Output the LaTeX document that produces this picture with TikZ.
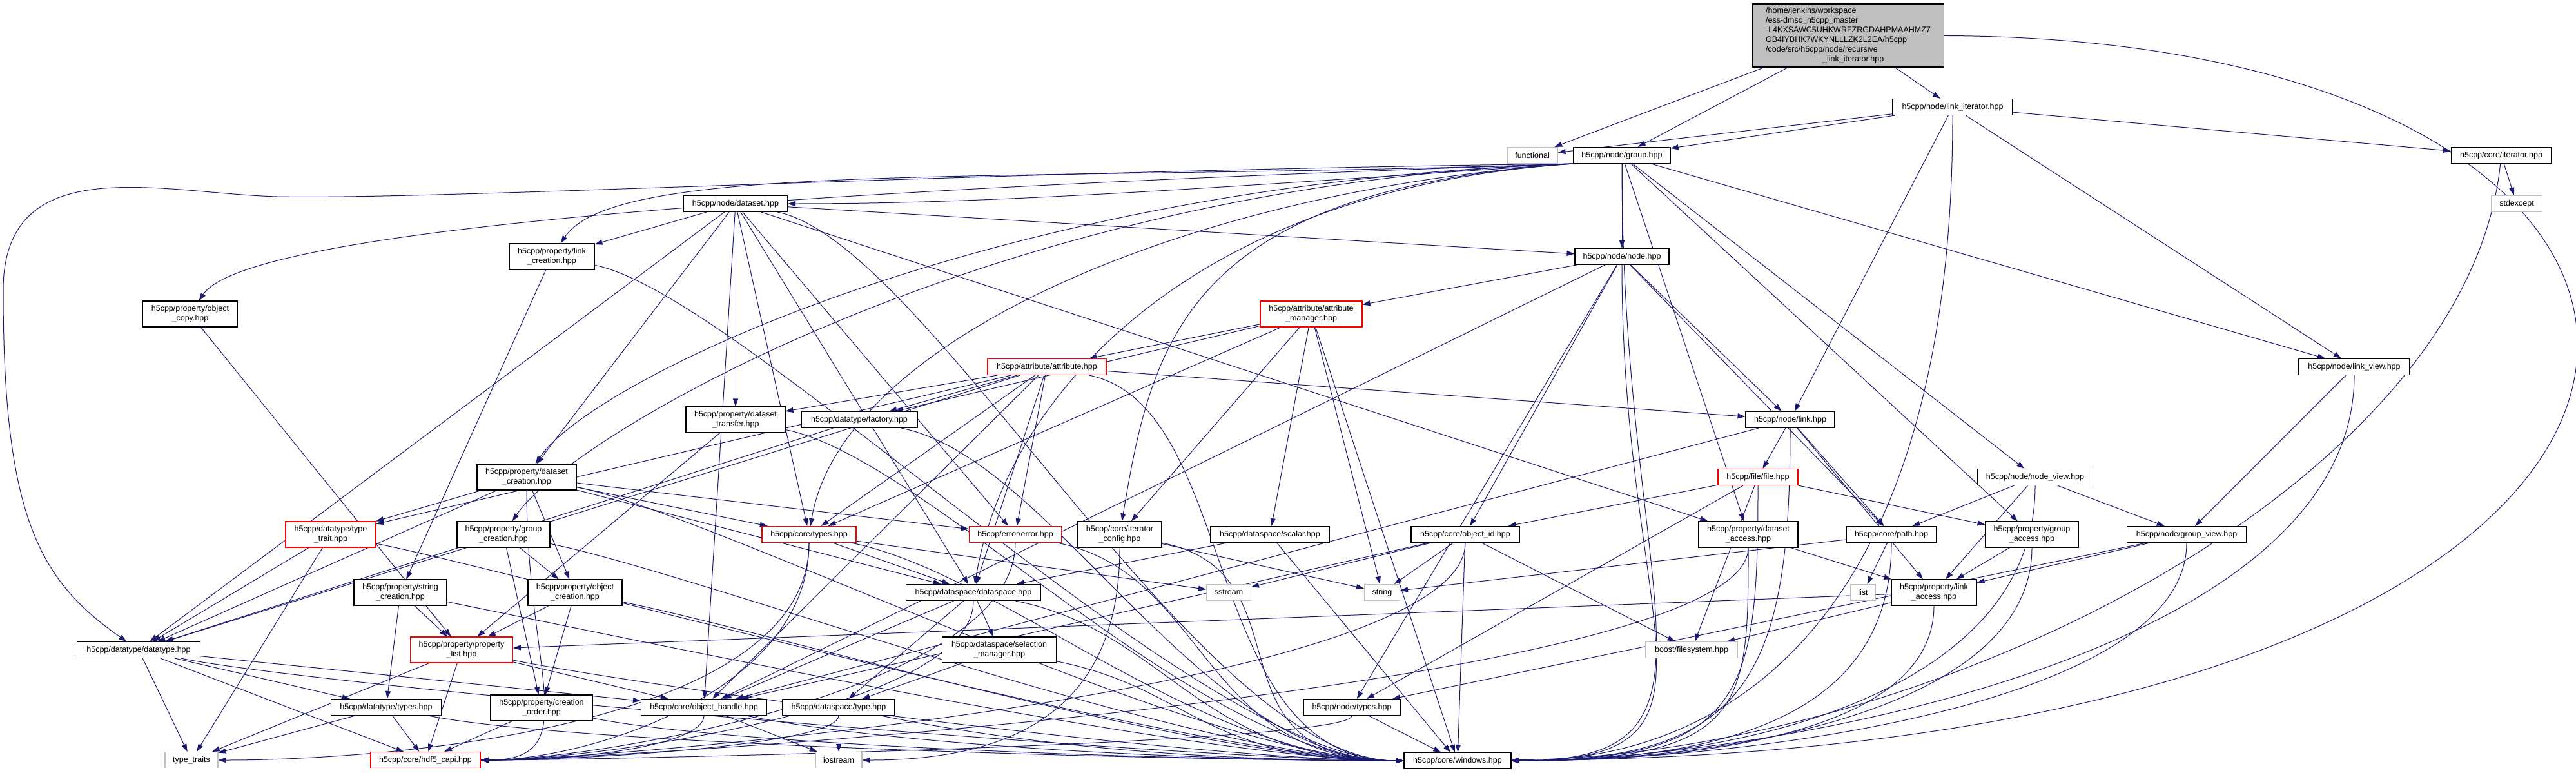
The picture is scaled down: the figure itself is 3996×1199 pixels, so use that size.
\documentclass[tikz,border=0pt]{standalone}
\usepackage{fontspec}
\setmainfont{Liberation Sans}
\usetikzlibrary{arrows.meta,backgrounds,calc}
\definecolor{edgeblue}{RGB}{25,25,112}
\definecolor{extgray}{RGB}{191,191,191}
\tikzset{
  hdr/.style={draw=black, fill=white, line width=1.1pt, inner sep=0pt, align=center, minimum height=25pt},
  hdrtall/.style={hdr, minimum height=40pt},
  trunc/.style={draw=red},
  syshdr/.style={hdr, draw=extgray},
  dep/.style={draw=edgeblue, line width=1pt, -{Triangle[length=12pt,width=8pt]}},
}
\begin{document}
\begin{tikzpicture}[x=1pt, y=-1pt, font=\fontsize{12.5}{15}\selectfont]
\useasboundingbox (0,0) rectangle (3996,1199);
% top of the graph
\node[hdr, fill=extgray, align=left, minimum width=297pt, minimum height=98pt] (root) at (2867,55)
  {/home/jenkins/workspace\\/ess-dmsc\_h5cpp\_master\\-L4KXSAWC5UHKWRFZRGDAHPMAAHMZ7\\OB4IYBHK7WKYNLLLZK2L2EA/h5cpp\\/code/src/h5cpp/node/recursive\\\hspace*{88pt}\_link\_iterator.hpp};
\node[hdr, minimum width=186pt] (linkiter) at (3029,166) {h5cpp/node/link\_iterator.hpp};
\node[syshdr, minimum width=78pt] (functional) at (2377,241) {functional};
\node[hdr, minimum width=150pt] (group) at (2516,241) {h5cpp/node/group.hpp};
\node[hdr, minimum width=155pt] (iterator) at (3880,241) {h5cpp/core/iterator.hpp};
\node[syshdr, minimum width=79pt] (stdexcept) at (3904,316) {stdexcept};
\node[hdr, minimum width=161pt] (dataset) at (1141,316) {h5cpp/node/dataset.hpp};
\node[hdrtall, minimum width=132pt] (linkcreation) at (856,398) {h5cpp/property/link\\\_creation.hpp};
\node[hdr, minimum width=146pt] (node) at (2516,398) {h5cpp/node/node.hpp};
\node[hdrtall, minimum width=147pt] (objectcopy) at (295,487) {h5cpp/property/object\\\_copy.hpp};
\node[hdrtall, trunc, minimum width=158pt] (attrmanager) at (2034,487) {h5cpp/attribute/attribute\\\_manager.hpp};
\node[hdr, trunc, minimum width=184pt] (attribute) at (1624,569) {h5cpp/attribute/attribute.hpp};
\node[hdr, minimum width=172pt] (linkview) at (3652,569) {h5cpp/node/link\_view.hpp};
% middle rows
\node[hdrtall, minimum width=154pt] (dsettransfer) at (1141,651) {h5cpp/property/dataset\\\_transfer.hpp};
\node[hdr, minimum width=180pt] (factory) at (1333,651) {h5cpp/datatype/factory.hpp};
\node[hdr, minimum width=138pt] (link) at (2777,651) {h5cpp/node/link.hpp};
\node[hdrtall, minimum width=154pt] (dsetcreation) at (817,740) {h5cpp/property/dataset\\\_creation.hpp};
\node[hdr, trunc, minimum width=124pt] (file) at (2727,740) {h5cpp/file/file.hpp};
\node[hdr, minimum width=179pt] (nodeview) at (3157,740) {h5cpp/node/node\_view.hpp};
\node[hdrtall, trunc, minimum width=140pt] (typetrait) at (513,829) {h5cpp/datatype/type\\\_trait.hpp};
\node[hdrtall, minimum width=144pt] (groupcreation) at (781,829) {h5cpp/property/group\\\_creation.hpp};
\node[hdr, trunc, minimum width=146pt] (coretypes) at (1255,829) {h5cpp/core/types.hpp};
\node[hdr, trunc, minimum width=143pt] (error) at (1575,829) {h5cpp/error/error.hpp};
\node[hdrtall, minimum width=130pt] (iterconfig) at (1737,829) {h5cpp/core/iterator\\\_config.hpp};
\node[hdr, minimum width=185pt] (scalar) at (1970,829) {h5cpp/dataspace/scalar.hpp};
\node[hdr, minimum width=168pt] (objectid) at (2273,829) {h5cpp/core/object\_id.hpp};
\node[hdrtall, minimum width=154pt] (dsetaccess) at (2712,829) {h5cpp/property/dataset\\\_access.hpp};
\node[hdr, minimum width=139pt] (path) at (2934,829) {h5cpp/core/path.hpp};
\node[hdrtall, minimum width=144pt] (groupaccess) at (3152,829) {h5cpp/property/group\\\_access.hpp};
\node[hdr, minimum width=185pt] (groupview) at (3392,829) {h5cpp/node/group\_view.hpp};
\node[hdrtall, minimum width=144pt] (stringcreation) at (621,919) {h5cpp/property/string\\\_creation.hpp};
\node[hdrtall, minimum width=146pt] (objectcreation) at (892,919) {h5cpp/property/object\\\_creation.hpp};
\node[hdr, minimum width=209pt] (dataspace) at (1510,919) {h5cpp/dataspace/dataspace.hpp};
\node[syshdr, minimum width=69pt] (sstream) at (1906,919) {sstream};
\node[syshdr, minimum width=55pt] (string) at (2144,919) {string};
\node[syshdr, minimum width=38pt] (list) at (2890,919) {list};
\node[hdrtall, minimum width=132pt] (linkaccess) at (3000,919) {h5cpp/property/link\\\_access.hpp};
\node[hdr, minimum width=191pt] (datatype) at (215,1008) {h5cpp/datatype/datatype.hpp};
\node[hdrtall, trunc, minimum width=159pt] (propertylist) at (716,1008) {h5cpp/property/property\\\_list.hpp};
\node[hdrtall, minimum width=177pt] (selectionmanager) at (1550,1008) {h5cpp/dataspace/selection\\\_manager.hpp};
\node[syshdr, minimum width=142pt] (boostfs) at (2624,1008) {boost/filesystem.hpp};
% bottom rows
\node[hdr, minimum width=171pt] (typesdt) at (599,1097) {h5cpp/datatype/types.hpp};
\node[hdrtall, minimum width=158pt] (creationorder) at (840,1098) {h5cpp/property/creation\\\_order.hpp};
\node[hdr, minimum width=195pt] (objecthandle) at (1092,1097) {h5cpp/core/object\_handle.hpp};
\node[hdr, minimum width=174pt] (dataspacetype) at (1301,1097) {h5cpp/dataspace/type.hpp};
\node[hdr, minimum width=150pt] (nodetypes) at (2097,1097) {h5cpp/node/types.hpp};
\node[syshdr, minimum width=82pt] (typetraits) at (297,1179) {type\_traits};
\node[hdr, trunc, minimum width=170pt] (hdf5capi) at (660,1179) {h5cpp/core/hdf5\_capi.hpp};
\node[syshdr, minimum width=72pt] (iostream) at (1301,1179) {iostream};
\node[hdr, minimum width=166pt] (windows) at (2261,1180) {h5cpp/core/windows.hpp};

\begin{scope}[on background layer]
\fill[white] (0,0) rectangle (3996,1199);
% plain includes
\foreach \s/\t in {root/functional, root/group, root/linkiter, linkiter/functional, linkiter/group,
  linkiter/iterator, linkiter/link, linkiter/linkview, iterator/stdexcept,
  group/node, group/linkview, group/nodeview, group/groupaccess, group/dsetaccess,
  dataset/linkcreation, dataset/datatype, dataset/dsettransfer, dataset/dsetcreation, dataset/node,
  dataset/dsetaccess, dataset/coretypes, dataset/error, dataset/dataspace, dataset/objecthandle,
  linkcreation/stringcreation, objectcopy/propertylist,
  node/attrmanager, node/objectid, node/link, node/path, node/objecthandle, node/nodetypes,
  attrmanager/attribute, attrmanager/factory, attrmanager/coretypes, attrmanager/iterconfig,
  attrmanager/scalar, attrmanager/string,
  attribute/dsettransfer, attribute/factory, attribute/coretypes, attribute/error, attribute/link,
  attribute/dataspace, attribute/datatype, attribute/typetrait, attribute/objecthandle,
  dsetcreation/typetrait, dsetcreation/datatype, dsetcreation/objectcreation, dsetcreation/coretypes,
  dsetcreation/error, dsetcreation/dataspace,
  groupcreation/objectcreation, groupcreation/creationorder, stringcreation/propertylist,
  stringcreation/typesdt, objectcreation/propertylist, objectcreation/creationorder,
  typetrait/datatype, typetrait/typetraits, propertylist/typetraits, propertylist/hdf5capi,
  propertylist/objecthandle, datatype/typetraits, datatype/hdf5capi, datatype/typesdt,
  datatype/objecthandle, typesdt/typetraits, typesdt/hdf5capi, creationorder/hdf5capi,
  coretypes/dataspace, coretypes/sstream, iterconfig/string, scalar/dataspace,
  dataspace/objecthandle, dataspace/dataspacetype, dataspace/selectionmanager,
  selectionmanager/dataspacetype, objecthandle/iostream, dataspacetype/iostream,
  dsettransfer/propertylist, factory/datatype,
  link/file, link/path, link/linkaccess, link/objecthandle, file/objectid, file/nodetypes,
  file/boostfs, file/groupaccess, objectid/string, objectid/sstream, objectid/boostfs,
  objectid/objecthandle, dsetaccess/linkaccess, path/string, path/list, linkaccess/boostfs,
  linkaccess/propertylist, nodeview/path, nodeview/linkaccess, nodeview/groupview,
  groupaccess/linkaccess, groupview/linkaccess, groupview/nodetypes, linkview/groupview,
  objectid/windows, nodetypes/windows, scalar/windows, attrmanager/windows}
  \draw[dep] (\s) -- (\t);
% group.hpp fans out to the left
\foreach \t in {objectcopy, linkcreation, dsetcreation, groupcreation}
  \draw[dep] (group.south west) .. controls ($(group.south west)+(-900,30)$) and ($(\t)+(100,-150)$) .. (\t);
\draw[dep] (group.south west) .. controls (1500,265) and (700,310) .. (430,305)
  .. controls (250,300) and (5,230) .. (5,450) .. controls (5,800) and (60,900) .. (datatype);
\foreach \t in {coretypes, dataspace, iterconfig}
  \draw[dep] (group.south west) .. controls ($(group.south west)+(-600,40)$) and ($(\t)+(50,-300)$) .. (\t);
\draw[dep] (group.south west) .. controls ($(group.south west)+(-600,40)$) and ($(dataset)+(400,0)$) .. (dataset);
% into windows.hpp
\foreach \s in {linkiter, group, node, link, file, dsetaccess, path, linkaccess,
  nodeview, groupaccess, groupview, linkview}
  \draw[dep] (\s) .. controls ($(\s)!0.75!(\s |- windows)$) and ($(windows)+(450,0)$) .. (windows);
\foreach \s in {linkcreation, dataset, dsettransfer, attribute, dsetcreation, groupcreation,
  stringcreation, objectcreation, typetrait, propertylist, datatype, typesdt, creationorder,
  coretypes, error, iterconfig, dataspace, selectionmanager, objecthandle, dataspacetype, factory}
  \draw[dep] (\s) .. controls ($(\s)+(300,60)$) and ($(windows)+(-400,0)$) .. (windows);
\draw[dep] (iterator) .. controls (3827,750) and (3000,1170) .. (windows);
\draw[dep] (root) .. controls (4420,60) and (4420,1170) .. (windows);
% into hdf5_capi.hpp and the std headers from the right
\foreach \s in {coretypes, error, objecthandle, dataspacetype, objectid, nodetypes, dataspace,
  dsetaccess, dsetcreation}
  \draw[dep] (\s) .. controls ($(\s)!0.7!(\s |- hdf5capi)$) and ($(hdf5capi)+(250,0)$) .. (hdf5capi);
\draw[dep] (iterconfig) .. controls ($(iterconfig)+(0,250)$) and ($(iostream)+(300,0)$) .. (iostream);
\draw[dep] (coretypes) .. controls ($(coretypes)+(0,300)$) and ($(typetraits)+(300,0)$) .. (typetraits);
\end{scope}
\end{tikzpicture}
\end{document}
